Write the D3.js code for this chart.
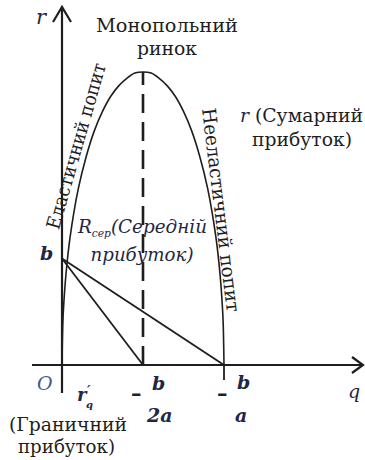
<!DOCTYPE html>
<html>
<head>
<meta charset="utf-8">
<script src="https://cdn.jsdelivr.net/npm/d3@7"></script>
<style>
  html, body { margin: 0; padding: 0; background: #fff; }
  svg { display: block; }
</style>
</head>
<body>
<script>
// Monopoly revenue diagram: total revenue arch, average and marginal revenue lines.

// Total revenue r(q), read along the arch
const quantity     = [0, 0.05, 0.1, 0.25, 0.5, 1, 1.5, 2, 2.5, 3, 3.5, 4, 4.5, 5,
                      5.5, 6, 6.5, 7, 7.5, 8, 8.5, 9, 9.5, 9.75, 9.9, 9.95, 10];
const totalRevenue = [0, 3.9, 5.5, 8.6, 12.0, 16.5, 19.6, 22.0, 23.8, 25.2, 26.2, 26.9, 27.4, 27.5,
                      27.4, 26.9, 26.2, 25.2, 23.8, 22.0, 19.6, 16.5, 12.0, 8.6, 5.5, 3.9, 0];

// Average revenue R = b - a q  (from b down to zero at b/a)
const averageQ = [0, 10];
const averageR = [10, 0];
// Marginal revenue r'q = b - 2a q  (from b down to zero at b/2a)
const marginalQ = [0, 5];
const marginalR = [10, 0];
// Monopoly point (maximum of total revenue)
const monopolyQ = [5, 5];
const monopolyR = [0, 27.5];

const W = 365, H = 460;
const ink = "#1e1e1e";
const navy = "#1f2747";
const SERIF = "'DejaVu Serif', serif";

const svg = d3.select("body").append("svg")
  .attr("width", W).attr("height", H)
  .style("font-family", SERIF);

const x = d3.scaleLinear().domain([0, 10]).range([62, 224]);
const y = d3.scaleLinear().domain([0, 27.5]).range([365, 72]);

// Axes
const x0 = x(0), y0 = y(0);
svg.append("line").attr("x1", x0 - 30).attr("x2", W - 2).attr("y1", y0).attr("y2", y0)
  .attr("stroke", ink).attr("stroke-width", 2.2);
svg.append("line").attr("x1", x0).attr("x2", x0).attr("y1", y0 + 28).attr("y2", 7)
  .attr("stroke", ink).attr("stroke-width", 2.2);
svg.append("path").attr("d", `M${x0 - 9},${22} L${x0},${7} L${x0 + 9},${22}`)
  .attr("fill", "none").attr("stroke", ink).attr("stroke-width", 2.2);
svg.append("path").attr("d", `M${W - 13},${y0 - 8} L${W - 2},${y0} L${W - 13},${y0 + 8}`)
  .attr("fill", "none").attr("stroke", ink).attr("stroke-width", 2.2);
// tick below b/a
svg.append("line").attr("x1", x(10)).attr("x2", x(10)).attr("y1", y0).attr("y2", y0 + 15)
  .attr("stroke", ink).attr("stroke-width", 1.8);

// Monopoly market (dashed vertical)
svg.append("line")
  .attr("x1", x(monopolyQ[0])).attr("x2", x(monopolyQ[1]))
  .attr("y1", y(monopolyR[0])).attr("y2", y(monopolyR[1]))
  .attr("stroke", ink).attr("stroke-width", 2.6)
  .attr("stroke-dasharray", "19,9");

// Total revenue arch
const arch = d3.line().x(d => x(d[0])).y(d => y(d[1])).curve(d3.curveCatmullRom.alpha(0.5));
svg.append("path").datum(d3.zip(quantity, totalRevenue))
  .attr("d", arch).attr("fill", "none").attr("stroke", ink).attr("stroke-width", 1.6);

// Average and marginal revenue
const straight = d3.line().x(d => x(d[0])).y(d => y(d[1]));
svg.append("path").datum(d3.zip(averageQ, averageR))
  .attr("d", straight).attr("fill", "none").attr("stroke", ink).attr("stroke-width", 1.8);
svg.append("path").datum(d3.zip(marginalQ, marginalR))
  .attr("d", straight).attr("fill", "none").attr("stroke", ink).attr("stroke-width", 1.8);

// Text labels
function label(t, px, py, opts = {}) {
  const el = svg.append("text").attr("x", px).attr("y", py)
    .attr("font-size", opts.size || 19)
    .attr("font-style", opts.italic ? "italic" : null)
    .attr("font-weight", opts.bold ? "bold" : null)
    .attr("fill", opts.color || ink)
    .attr("text-anchor", opts.anchor || "start")
    .text(t);
  if (opts.len) el.attr("textLength", opts.len).attr("lengthAdjust", "spacingAndGlyphs");
  return el;
}

label("r", 36, 24, { italic: true, color: navy, size: 21 });
label("Монопольний", 167, 32, { anchor: "middle", size: 18.5, len: 142 });
label("ринок", 167, 55, { anchor: "middle", size: 18.5, len: 60 });

const tr = svg.append("text").attr("x", 240).attr("y", 122).attr("font-size", 19).attr("fill", ink)
  .attr("textLength", 123).attr("lengthAdjust", "spacingAndGlyphs");
tr.append("tspan").attr("font-style", "italic").attr("fill", navy).text("r");
tr.append("tspan").text(" (Сумарний");
label("прибуток)", 302, 146, { anchor: "middle", size: 19, len: 100 });

// Average revenue caption
const ar = svg.append("text").attr("x", 78).attr("y", 233).attr("font-size", 19)
  .attr("font-style", "italic").attr("fill", navy)
  .attr("textLength", 129).attr("lengthAdjust", "spacingAndGlyphs");
ar.append("tspan").text("R");
ar.append("tspan").attr("font-size", 11).attr("dy", 4).text("сер");
ar.append("tspan").attr("dy", -4).text("(Середній");
label("прибуток)", 142, 261, { anchor: "middle", italic: true, color: navy, size: 19, len: 103 });

// Slanted captions along the arch
svg.append("text").attr("transform", "translate(76,146) rotate(-74)")
  .attr("x", 0).attr("y", 0)
  .attr("text-anchor", "middle").attr("dy", "0.35em")
  .attr("font-size", 19).attr("fill", ink)
  .attr("textLength", 172).attr("lengthAdjust", "spacingAndGlyphs")
  .text("Еластичний попит");
svg.append("text").attr("transform", "translate(221,210) rotate(83)")
  .attr("x", 0).attr("y", 0)
  .attr("text-anchor", "middle").attr("dy", "0.35em")
  .attr("font-size", 19).attr("fill", ink)
  .attr("textLength", 205).attr("lengthAdjust", "spacingAndGlyphs")
  .text("Нееластичний попит");

// Axis annotations
label("b", 40, 260, { italic: true, bold: true, color: navy, size: 19 });
label("O", 37, 390, { italic: true, color: "#3d5a8c", size: 19 });

// Marginal revenue symbol r'q
const mr = svg.append("text").attr("font-style", "italic").attr("font-weight", "bold").attr("fill", navy);
mr.append("tspan").attr("x", 77).attr("y", 401).attr("font-size", 18).text("r");
mr.append("tspan").attr("x", 87).attr("y", 395).attr("font-size", 13).text("′");
mr.append("tspan").attr("x", 86).attr("y", 408).attr("font-size", 10).text("q");

label("b", 152, 390, { italic: true, bold: true, color: navy, size: 19 });
label("–", 131, 400, { bold: true, color: ink, size: 21 });
label("2a", 147, 422, { italic: true, bold: true, color: navy, size: 19 });
label("b", 237, 389, { italic: true, bold: true, color: navy, size: 19 });
label("–", 217, 400, { bold: true, color: ink, size: 21 });
label("a", 235, 422, { italic: true, bold: true, color: navy, size: 19 });
label("q", 348, 398, { italic: true, color: navy, size: 19 });

label("(Граничний", 9, 431, { size: 19, len: 118 });
label("прибуток)", 18, 453, { size: 19, len: 97 });
</script>
</body>
</html>
